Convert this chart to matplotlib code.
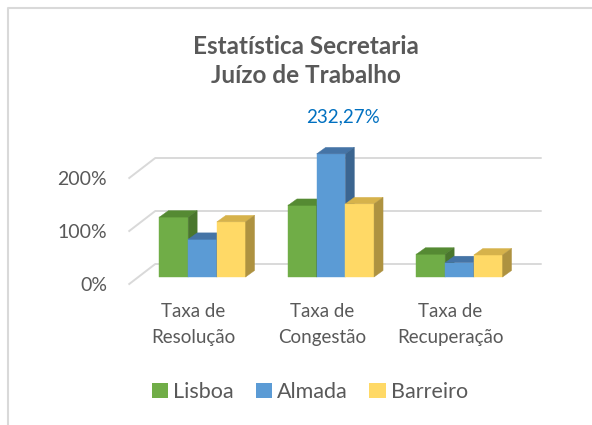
import matplotlib.pyplot as plt
from matplotlib.patches import Rectangle, Polygon, Patch
from matplotlib.lines import Line2D

plt.rcParams['font.family'] = ['Lato', 'DejaVu Sans']

categories = ['Taxa de\nResolução', 'Taxa de\nCongestão', 'Taxa de\nRecuperação']
series = ['Lisboa', 'Almada', 'Barreiro']
lisboa = [113, 135, 43]
almada = [71, 232.27, 27]
barreiro = [104, 138, 41.5]
values = [lisboa, almada, barreiro]
yticks = [0, 100, 200]
ytick_labels = ['0%', '100%', '200%']

# front / top / side shades per series
faces = [('#70AD47', '#558A33', '#4A772D'),
		 ('#5B9BD5', '#4574A6', '#3B6590'),
		 ('#FFD966', '#D6B24B', '#AE9240')]
text_grey = '#595959'

W, H, DPI = 592, 425, 100
fig = plt.figure(figsize=(W / DPI, H / DPI), dpi=DPI)
fig.patch.set_facecolor('white')

# floor front edge in pixels
ax_left, ax_right, ax_base = 129.25, 514.75, 284
ymax = 250
px_per_pct = 0.53
ax = fig.add_axes([ax_left / W, (H - ax_base) / H, (ax_right - ax_left) / W, ymax * px_per_pct / H])
ax.set_xlim(-0.5, 2.5)
ax.set_ylim(0, ymax)
px_per_cat = (ax_right - ax_left) / 3

def dx(px):
	return px / px_per_cat

def dy(px):
	return px / px_per_pct

# oblique depth: back wall, bar front plane, bar thickness
wall_dx, wall_dy = dx(26), dy(20)
bar_dx, bar_dy = dx(9), dy(7)
thick_dx, thick_dy = dx(9), dy(6.5)
bw = dx(28.7)

for v in yticks:
	ax.plot([-0.5, -0.5 + wall_dx, 2.5 + wall_dx], [v, v + wall_dy, v + wall_dy],
			color='#D9D9D9', lw=1.4, clip_on=False, zorder=0)

for i in range(len(categories)):
	for j, vals in enumerate(values):
		v = vals[i]
		front, top, side = faces[j]
		x0 = i + (j - 1.5) * bw + bar_dx
		y0 = bar_dy
		z = 2 + j
		ax.add_patch(Rectangle((x0, y0), bw, v, facecolor=front, edgecolor=front, lw=0.3, clip_on=False, zorder=z))
		ax.add_patch(Polygon([(x0, y0 + v), (x0 + bw, y0 + v), (x0 + bw + thick_dx, y0 + v + thick_dy),
							  (x0 + thick_dx, y0 + v + thick_dy)],
							 facecolor=top, edgecolor=top, lw=0.3, clip_on=False, zorder=z))
		ax.add_patch(Polygon([(x0 + bw, y0), (x0 + bw, y0 + v), (x0 + bw + thick_dx, y0 + v + thick_dy),
							  (x0 + bw + thick_dx, y0 + thick_dy)],
							 facecolor=side, edgecolor=side, lw=0.3, clip_on=False, zorder=z))

# value label on the tallest bar
peak = almada[1]
ax.annotate(f'{peak:.2f}%'.replace('.', ','), xy=(1 + bar_dx, bar_dy + peak),
			xytext=(12, 37), textcoords='offset pixels', ha='center', va='center',
			color='#0070C0', fontsize=13.5, zorder=10)

ax.set_xticks(range(len(categories)))
ax.set_xticklabels(categories, linespacing=1.6)
ax.set_yticks(yticks)
ax.set_yticklabels(ytick_labels)
ax.tick_params(axis='x', length=0, pad=14, labelsize=13.5, labelcolor=text_grey)
ax.tick_params(axis='y', length=0, pad=16, labelsize=14, labelcolor=text_grey)
for s in ax.spines.values():
	s.set_visible(False)
ax.patch.set_alpha(0)

fig.text(306 / W, 1 - 61 / H, 'Estatística Secretaria\nJuízo de Trabalho', ha='center', va='center',
		 fontsize=17.5, fontweight='bold', color=text_grey, linespacing=1.35)

handles = [Patch(facecolor=f[0], edgecolor='none') for f in faces]
fig.legend(handles, series, loc='center', bbox_to_anchor=(310 / W, 1 - 392 / H), ncol=3, frameon=False,
		   fontsize=15.5, handlelength=0.75, handleheight=0.75, handletextpad=0.25, columnspacing=1.0,
		   labelcolor=text_grey)

# chart area border
fig.add_artist(Line2D([8 / W, 8 / W, 1], [0, 1 - 8 / H, 1 - 8 / H], transform=fig.transFigure,
					  color='#D9D9D9', lw=1.5))

fig.savefig('out.png', dpi=DPI)
